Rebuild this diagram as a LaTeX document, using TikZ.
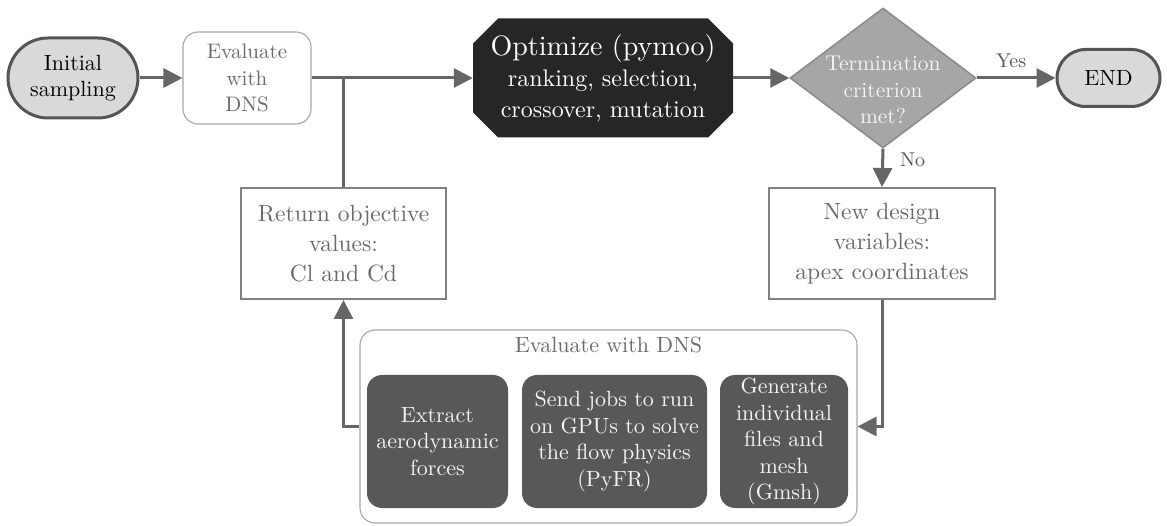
\documentclass[tikz,border=0pt]{standalone}
\usepackage{fontspec}
\setmainfont{lmroman10-regular.otf}
\usetikzlibrary{shapes.geometric,shapes.misc,arrows.meta}
\definecolor{conncol}{HTML}{666666}
\definecolor{termfill}{HTML}{D9D9D9}
\definecolor{termdraw}{HTML}{555555}
\definecolor{graytext}{HTML}{6A6A6A}
\definecolor{optfill}{HTML}{262626}
\definecolor{decfill}{HTML}{A6A6A6}
\definecolor{decdraw}{HTML}{8A8A8A}
\definecolor{boxdraw}{HTML}{808080}
\definecolor{lightdraw}{HTML}{A6A6A6}
\definecolor{innerfill}{HTML}{585858}
\definecolor{innertext}{HTML}{F4F4F4}
\newcommand\fsMain{\fontsize{22}{26}\selectfont}
\begin{document}
\begin{tikzpicture}[x=1pt,y=-1pt,
  line/.style={draw=conncol, line width=3pt},
  conn/.style={line, -{Triangle[length=19pt,width=19pt]}},
  term/.style={rounded rectangle, draw=termdraw, line width=3pt, fill=termfill,
    text=black, align=center, font=\fsMain, inner sep=0pt},
  evalbox/.style={rectangle, rounded corners=15pt, draw=lightdraw, line width=1.1pt,
    text=graytext, align=center, font=\fontsize{21}{26.5}\selectfont, inner sep=0pt,
    minimum width=128pt, minimum height=92pt},
  optbox/.style={rectangle, text=white, align=center,
    font=\fontsize{24}{31}\selectfont, inner sep=0pt,
    minimum width=260pt, minimum height=119pt,
    path picture={\fill[optfill]
      ([xshift=25pt]path picture bounding box.north west) --
      ([xshift=-25pt]path picture bounding box.north east) --
      ([yshift=-25pt]path picture bounding box.north east) --
      ([yshift=25pt]path picture bounding box.south east) --
      ([xshift=-25pt]path picture bounding box.south east) --
      ([xshift=25pt]path picture bounding box.south west) --
      ([yshift=25pt]path picture bounding box.south west) --
      ([yshift=-25pt]path picture bounding box.north west) -- cycle;}},
  decshape/.style={diamond, fill=decfill, draw=decdraw, line width=1.5pt,
    inner sep=0pt, minimum width=186pt, minimum height=140pt},
  dectext/.style={text=innertext, align=center, font=\fontsize{21.5}{26.5}\selectfont, inner sep=0pt},
  valbox/.style={rectangle, draw=boxdraw, line width=2pt, text=graytext, align=center,
    font=\fontsize{23.5}{30}\selectfont, inner sep=0pt, minimum height=111pt},
  grpbox/.style={rectangle, rounded corners=15pt, draw=lightdraw, line width=1.1pt,
    minimum width=497pt, minimum height=193pt, inner sep=0pt},
  inner/.style={rectangle, rounded corners=15pt, fill=innerfill, text=innertext,
    align=center, font=\fontsize{22}{26.5}\selectfont, inner sep=0pt,
    minimum height=133pt},
  lbl/.style={text=termdraw, font=\fontsize{20}{24}\selectfont, inner sep=0pt}
]
\useasboundingbox (0,0) rectangle (1167,526);

% top row
\node[term, minimum width=130pt, minimum height=80pt] (init) at (73,78) {Initial\\sampling};
\node[evalbox] (eval) at (247,78) {Evaluate\\with\\DNS};
\node[optbox] (opt) at (603,78) {{\fontsize{28}{31}\selectfont Optimize (pymoo)}\\ranking, selection,\\crossover, mutation};
\node[decshape] (dec) at (883,78) {};
\node[dectext] (dectxt) at (883,90) {Termination\\criterion\\met?};
\node[term, minimum width=103pt, minimum height=57pt] (end) at (1108.5,78) {END};

% middle row
\node[valbox, minimum width=205pt] (ret) at (343.5,243.5) {Return objective\\values:\\Cl and Cd};
\node[valbox, minimum width=226pt] (new) at (882,243.5) {New design\\variables:\\apex coordinates};

% group
\node[grpbox] (grp) at (608.5,426.5) {};
\node[text=graytext, font=\fontsize{22}{27}\selectfont, inner sep=0pt] (grptitle) at (608.5,345) {Evaluate with DNS};
\node[inner, minimum width=141pt] (ext) at (437.5,441.5) {Extract\\aerodynamic\\forces};
\node[inner, minimum width=185pt] (send) at (614.5,441.5) {Send jobs to run\\on GPUs to solve\\the flow physics\\(PyFR)};
\node[inner, minimum width=128pt] (gen) at (784,441.5) {Generate\\individual\\files and\\mesh\\(Gmsh)};

% connectors
\draw[conn] (init.east) -- (eval.west);
\draw[conn] (eval.east) -- (opt.west);
\draw[line] (ret.north) -- (ret.north |- eval.east);
\draw[conn] (opt.east) -- (dec.west);
\draw[conn] (dec.east) -- node[lbl, above=9pt, xshift=-5pt] {Yes} (end.west);
\draw[conn] (dec.south) -- node[lbl, pos=0.3, right=16pt] {No} (new.north);
\draw[conn] (new.south) |- (grp.east);
\draw[conn] (grp.west) -| (ret.south);
\end{tikzpicture}
\end{document}
